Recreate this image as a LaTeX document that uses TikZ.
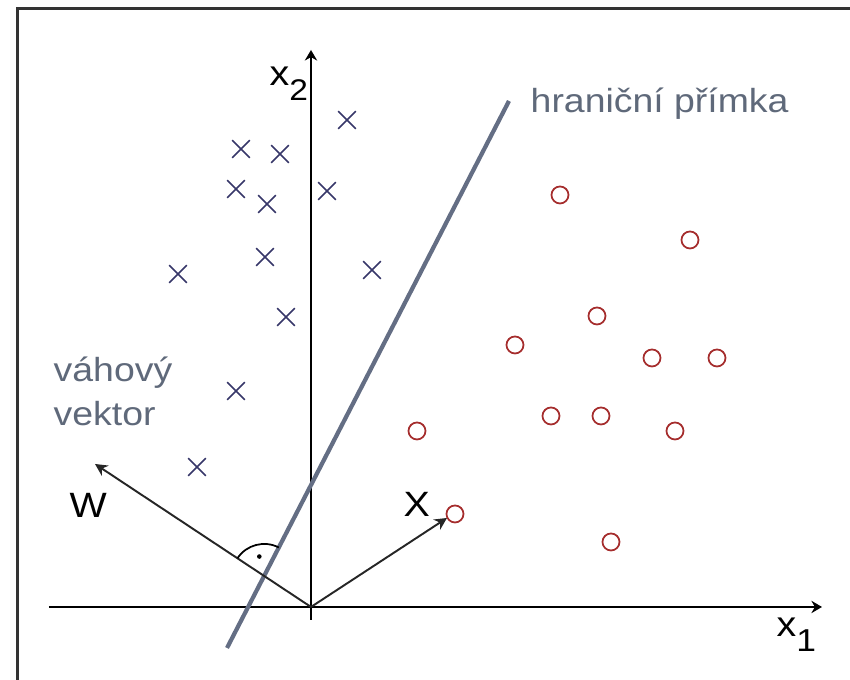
\documentclass[tikz,border=0pt]{standalone}
\usepackage{fontspec}
\setmainfont[FakeStretch=1.12]{Liberation Sans}
\usetikzlibrary{arrows.meta, shapes.misc}
\definecolor{mynavy}{RGB}{55,55,105}
\definecolor{myred}{RGB}{165,45,45}
\definecolor{mygrey}{RGB}{95,105,122}
\definecolor{myline}{RGB}{100,110,132}
\tikzset{
  xmark/.style={cross out, draw=mynavy, minimum size=0.16cm,
    inner sep=0pt, line width=0.45pt},
  omark/.style={circle, draw=myred, minimum size=0.17cm,
    inner sep=0pt, line width=0.5pt},
  axis/.style={-{Stealth[length=3pt,width=3.5pt]}, line width=0.6pt, color=black},
  vect/.style={-{Stealth[length=3.5pt,width=3.5pt]}, line width=0.55pt, color=black!85},
  txt/.style={anchor=base west, inner sep=0pt,
    font=\fontsize{9.5}{11}\selectfont, text=mygrey},
  bigtxt/.style={anchor=base west, inner sep=0pt,
    font=\fontsize{10}{12}\selectfont, text=black}
}

\begin{document}
\begin{tikzpicture}[x=0.01cm, y=0.01cm]
  \useasboundingbox (0,0) rectangle (850,680);
  % Frame
  \draw[line width=0.85pt, black!80] (17.5,0) -- (17.5,671) -- (850,671);

  % Coordinates
  \coordinate (O) at (311,73);
  \coordinate (x_left) at (49,73);
  \coordinate (x_right) at (822,73);
  \coordinate (y_bot) at (311,60);
  \coordinate (y_top) at (311,630);
  \coordinate (b_low) at (227,32);
  \coordinate (b_high) at (509,579);
  \coordinate (W_tip) at (95,216);
  \coordinate (X_tip) at (447,162);
  \coordinate (I) at (intersection of O--W_tip and b_low--b_high);

  % Axes
  \draw[axis] (x_left) -- (x_right);
  \draw[axis] (y_bot) -- (y_top);

  % Boundary line
  \draw[myline, line width=1.2pt] (b_low) -- (b_high);

  % Vectors W and X
  \draw[vect] (O) -- (W_tip);
  \draw[vect] (O) -- (X_tip);

  % Right angle mark
  \draw[line width=0.5pt] (I) ++(62.7:32) arc[start angle=62.7, end angle=146.5, radius=32];
  \fill (I) ++(104:20) circle[radius=2.3];

  % Class 1 (crosses)
  \foreach \px/\py [count=\i] in {347/560, 241/531, 280/526, 236/491, 267/476,
      327/489, 265/423, 178/406, 372/410, 286/363, 236/289, 197/213}
    \node[xmark] (c\i) at (\px,\py) {};

  % Class 2 (circles)
  \foreach \px/\py [count=\i] in {560/485, 690/440, 597/364, 515/335, 652/322,
      717/322, 551/264, 601/264, 675/249, 417/249, 455/166, 611/138}
    \node[omark] (r\i) at (\px,\py) {};

  % Labels
  \node[txt] (bound) at (530,567) {hraniční přímka};
  \node[txt] (weight1) at (53,298) {váhový};
  \node[txt] (weight2) at (53,254) {vektor};
  \node[bigtxt] (W_lab) at (69,162) {W};
  \node[bigtxt] (X_lab) at (403,163) {X};
  \node[bigtxt] (x2_lab) at (269,594) {x\raisebox{-0.8ex}{\fontsize{8.5}{9}\selectfont 2}};
  \node[bigtxt] (x1_lab) at (776,43) {x\raisebox{-0.8ex}{\fontsize{9}{10}\selectfont 1}};
\end{tikzpicture}
\end{document}
